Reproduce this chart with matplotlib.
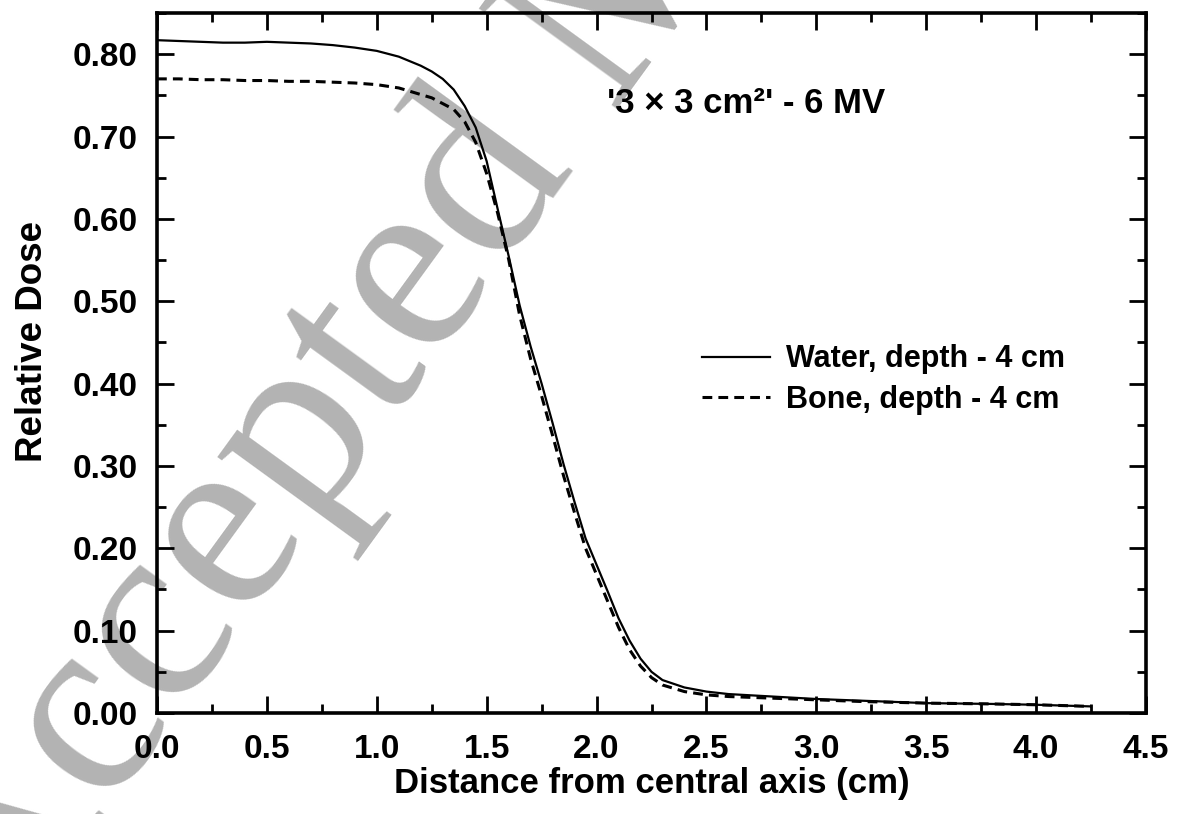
import matplotlib
matplotlib.use("Agg")
import matplotlib.pyplot as plt
from matplotlib.ticker import MultipleLocator, FormatStrFormatter

# ---- data ----
distance_cm = [0.0, 0.1, 0.2, 0.3, 0.4, 0.5, 0.6, 0.7, 0.8, 0.9, 1.0, 1.1, 1.2,
               1.25, 1.3, 1.35, 1.4, 1.45, 1.5, 1.55, 1.6, 1.65, 1.7, 1.75, 1.8,
               1.85, 1.9, 1.95, 2.0, 2.05, 2.1, 2.15, 2.2, 2.25, 2.3, 2.4, 2.5,
               2.6, 2.8, 3.0, 3.2, 3.5, 3.8, 4.0, 4.25]
water_dose = [0.817, 0.816, 0.815, 0.814, 0.814, 0.815, 0.814, 0.813, 0.811,
              0.808, 0.804, 0.797, 0.786, 0.779, 0.770, 0.757, 0.737, 0.711,
              0.670, 0.612, 0.555, 0.495, 0.445, 0.400, 0.352, 0.302, 0.256,
              0.212, 0.180, 0.148, 0.115, 0.088, 0.066, 0.050, 0.040, 0.031,
              0.026, 0.023, 0.020, 0.017, 0.015, 0.012, 0.011, 0.010, 0.008]
bone_dose = [0.770, 0.770, 0.769, 0.769, 0.768, 0.768, 0.767, 0.767, 0.766,
             0.765, 0.763, 0.759, 0.751, 0.747, 0.740, 0.733, 0.718, 0.693,
             0.655, 0.607, 0.551, 0.483, 0.430, 0.385, 0.337, 0.288, 0.243,
             0.200, 0.168, 0.136, 0.104, 0.077, 0.057, 0.043, 0.034, 0.026,
             0.022, 0.020, 0.018, 0.016, 0.014, 0.012, 0.011, 0.010, 0.008]

series_labels = ["Water, depth - 4 cm", "Bone, depth - 4 cm"]
x_label = "Distance from central axis (cm)"
y_label = "Relative Dose"
annotation = "'3 \u00d7 3 cm\u00b2' - 6 MV"
watermark = "Accepted Manuscript"

plt.rcParams['font.family'] = ['Liberation Sans', 'DejaVu Sans']
plt.rcParams['font.weight'] = 'bold'

fig = plt.figure(figsize=(11.78, 8.14), dpi=100)
ax = fig.add_axes([157/1178, 1 - 713/814, (1146-157)/1178, (713-13)/814])
ax.set_zorder(1)
ax.patch.set_visible(False)

# watermark behind everything
fig.text(-4/1178, 1 - 965/814, watermark, rotation=54, rotation_mode='anchor',
         ha='left', va='baseline', fontsize=188, color='#b3b3b3',
         family=['Liberation Serif', 'DejaVu Serif'], fontweight='normal',
         zorder=0)

ax.plot(distance_cm, water_dose, color='black', lw=1.6, solid_joinstyle='round',
        label=series_labels[0])
ax.plot(distance_cm, bone_dose, color='black', lw=2.2, linestyle=(0, (3.2, 2.0)),
        label=series_labels[1])

ax.set_xlim(0, 4.5)
ax.set_ylim(0, 0.85)
ax.xaxis.set_major_locator(MultipleLocator(0.5))
ax.xaxis.set_minor_locator(MultipleLocator(0.25))
ax.yaxis.set_major_locator(MultipleLocator(0.1))
ax.yaxis.set_minor_locator(MultipleLocator(0.05))
ax.xaxis.set_major_formatter(FormatStrFormatter('%.1f'))
ax.yaxis.set_major_formatter(FormatStrFormatter('%.2f'))

ax.tick_params(which='both', direction='in', top=True, right=True, width=2.0)
ax.tick_params(which='major', length=12)
ax.tick_params(which='minor', length=6.5)
ax.tick_params(axis='x', which='major', labelsize=24, pad=15)
ax.tick_params(axis='y', which='major', labelsize=24, pad=14)
for lab in ax.get_xticklabels() + ax.get_yticklabels():
    lab.set_fontweight('bold')
for sp in ax.spines.values():
    sp.set_linewidth(2.6)

ax.set_xlabel(x_label, fontsize=25, fontweight='bold', labelpad=1.5)
ax.set_ylabel(y_label, fontsize=26.5, fontweight='bold')
ax.yaxis.set_label_coords(-0.108, 0.53)

ax.text(2.047, 0.729, annotation, transform=ax.transData, ha='left',
        va='baseline', fontsize=25, fontweight='bold')

leg = ax.legend(loc='upper left', bbox_to_anchor=(0.539, 0.544), frameon=False,
                fontsize=22, handlelength=2.2, handletextpad=0.55,
                labelspacing=0.35, borderaxespad=0)
for t in leg.get_texts():
    t.set_fontweight('bold')

fig.savefig('out.png', dpi=100)
